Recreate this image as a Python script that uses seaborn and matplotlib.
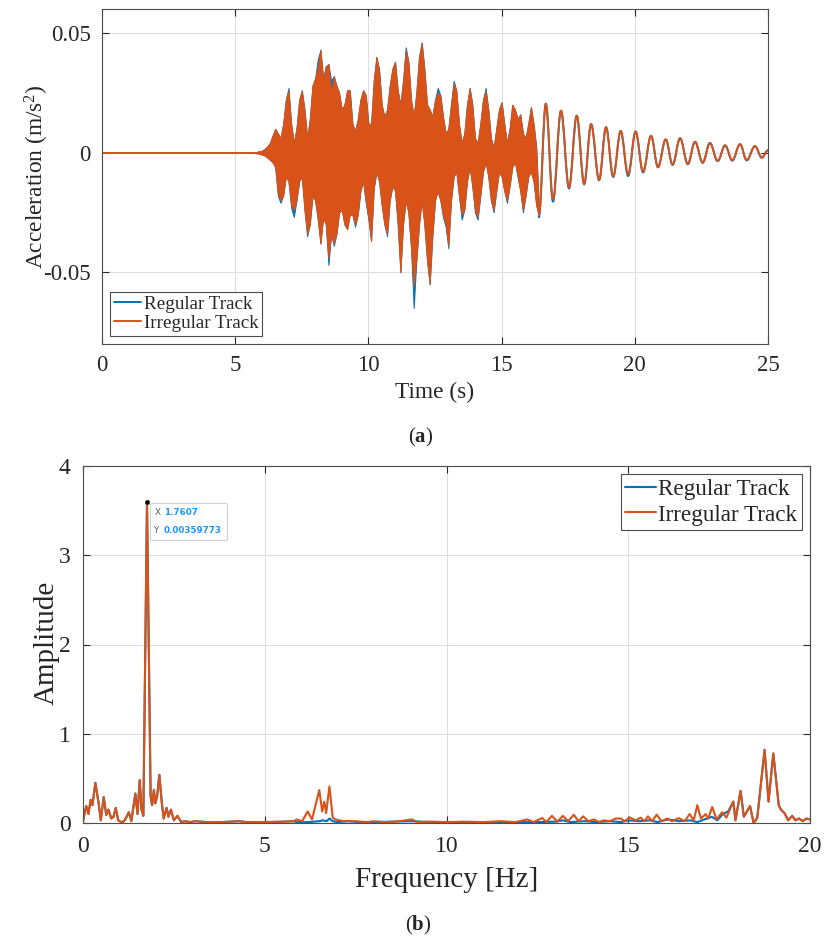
import numpy as np
import pandas as pd
import matplotlib
matplotlib.use("Agg")
import matplotlib.pyplot as plt
import seaborn as sns
from matplotlib.lines import Line2D
from matplotlib.path import Path
from matplotlib.patches import PathPatch
from matplotlib.offsetbox import TextArea, HPacker, VPacker, AnnotationBbox

# ---------------------------------------------------------------- data
# (a) vertical acceleration time history [m/s^2]
quiet_t = [0.0, 5.8]
quiet_v = [0.0, 0.0]

# strong-motion part: band of the fast oscillation, sampled every 0.1 s
env_t = np.round(np.arange(5.8, 16.45, 0.1), 1)
irr_hi = [0.0003, 0.0005, 0.0008, 0.0015, 0.0025, 0.004, 0.007, 0.010, 0.008, 0.006,
          0.012, 0.022, 0.026, 0.012, 0.004, 0.010, 0.022, 0.026, 0.018, 0.006,
          0.014, 0.028, 0.031, 0.036, 0.043, 0.030, 0.036, 0.037, 0.025, 0.032,
          0.028, 0.025, 0.018, 0.020, 0.026, 0.026, 0.012, 0.009, 0.014, 0.022,
          0.026, 0.024, 0.012, 0.012, 0.030, 0.040, 0.034, 0.020, 0.015, 0.018,
          0.028, 0.035, 0.038, 0.026, 0.020, 0.030, 0.043, 0.038, 0.022, 0.015,
          0.025, 0.040, 0.046, 0.035, 0.020, 0.018, 0.015, 0.022, 0.025, 0.024,
          0.015, 0.008, 0.010, 0.020, 0.029, 0.026, 0.012, 0.004, 0.008, 0.020,
          0.027, 0.020, 0.006, 0.004, 0.012, 0.022, 0.026, 0.018, 0.006, 0.002,
          0.010, 0.018, 0.021, 0.012, 0.004, 0.010, 0.020, 0.018, 0.014, 0.016,
          0.008, 0.006, 0.012, 0.019, 0.012, 0.002, -0.024]
irr_lo = [-0.0003, -0.0005, -0.0008, -0.0012, -0.002, -0.003, -0.004, -0.006, -0.017, -0.020,
          -0.018, -0.010, -0.012, -0.022, -0.024, -0.020, -0.012, -0.010, -0.024, -0.034,
          -0.030, -0.018, -0.020, -0.028, -0.038, -0.027, -0.030, -0.044, -0.034, -0.038,
          -0.034, -0.025, -0.024, -0.030, -0.032, -0.026, -0.026, -0.030, -0.026, -0.016,
          -0.012, -0.020, -0.027, -0.037, -0.015, -0.008, -0.012, -0.022, -0.030, -0.034,
          -0.020, -0.014, -0.016, -0.030, -0.050, -0.030, -0.020, -0.025, -0.040, -0.056,
          -0.045, -0.030, -0.020, -0.030, -0.045, -0.055, -0.035, -0.020, -0.016, -0.020,
          -0.026, -0.030, -0.039, -0.020, -0.010, -0.008, -0.018, -0.026, -0.024, -0.012,
          -0.006, -0.014, -0.024, -0.027, -0.018, -0.008, -0.004, -0.010, -0.020, -0.024,
          -0.016, -0.008, -0.010, -0.016, -0.020, -0.014, -0.006, -0.004, -0.010, -0.016,
          -0.024, -0.018, -0.010, -0.008, -0.012, -0.022, -0.026]
reg_hi = [0.0003, 0.0005, 0.0008, 0.0015, 0.0025, 0.004, 0.007, 0.010, 0.008, 0.006,
          0.012, 0.022, 0.027, 0.012, 0.004, 0.010, 0.022, 0.026, 0.018, 0.006,
          0.014, 0.028, 0.031, 0.039, 0.043, 0.031, 0.036, 0.037, 0.030, 0.032,
          0.028, 0.025, 0.018, 0.020, 0.026, 0.026, 0.012, 0.009, 0.014, 0.022,
          0.026, 0.024, 0.012, 0.012, 0.030, 0.040, 0.035, 0.020, 0.015, 0.018,
          0.028, 0.035, 0.038, 0.026, 0.020, 0.030, 0.044, 0.038, 0.022, 0.015,
          0.025, 0.040, 0.046, 0.035, 0.020, 0.018, 0.015, 0.022, 0.027, 0.024,
          0.015, 0.008, 0.010, 0.020, 0.030, 0.026, 0.012, 0.004, 0.008, 0.020,
          0.027, 0.020, 0.006, 0.004, 0.012, 0.022, 0.027, 0.018, 0.006, 0.002,
          0.010, 0.018, 0.021, 0.012, 0.004, 0.010, 0.020, 0.018, 0.014, 0.016,
          0.008, 0.006, 0.012, 0.019, 0.012, 0.002, -0.024]
reg_lo = [-0.0003, -0.0005, -0.0008, -0.0012, -0.002, -0.003, -0.004, -0.006, -0.018, -0.021,
          -0.018, -0.010, -0.012, -0.023, -0.027, -0.020, -0.012, -0.010, -0.024, -0.035,
          -0.030, -0.018, -0.020, -0.028, -0.038, -0.027, -0.030, -0.047, -0.034, -0.039,
          -0.034, -0.025, -0.024, -0.030, -0.032, -0.026, -0.026, -0.031, -0.026, -0.016,
          -0.012, -0.021, -0.028, -0.037, -0.015, -0.008, -0.012, -0.022, -0.030, -0.035,
          -0.020, -0.014, -0.016, -0.030, -0.050, -0.030, -0.020, -0.025, -0.040, -0.065,
          -0.045, -0.030, -0.020, -0.030, -0.045, -0.055, -0.035, -0.020, -0.016, -0.020,
          -0.027, -0.031, -0.040, -0.020, -0.010, -0.008, -0.018, -0.028, -0.024, -0.012,
          -0.006, -0.014, -0.025, -0.028, -0.018, -0.008, -0.004, -0.010, -0.020, -0.025,
          -0.016, -0.008, -0.010, -0.016, -0.021, -0.014, -0.006, -0.004, -0.010, -0.016,
          -0.025, -0.018, -0.010, -0.008, -0.012, -0.022, -0.027]

# free decay: successive crests and troughs
tail_t = [16.40, 16.66, 16.93, 17.23, 17.53, 17.82, 18.10, 18.36, 18.66, 18.92,
          19.19, 19.47, 19.75, 20.03, 20.31, 20.61, 20.87, 21.16, 21.42, 21.70,
          21.99, 22.26, 22.55, 22.82, 23.11, 23.39, 23.66, 23.95, 24.20, 24.51,
          24.77, 25.00]
tail_irr = [-0.026, 0.0203, -0.0195, 0.0175, -0.0145, 0.0154, -0.013, 0.0119, -0.0113, 0.0106,
            -0.010, 0.009, -0.009, 0.0088, -0.0079, 0.007, -0.006, 0.0055, -0.005, 0.006,
            -0.0047, 0.0045, -0.0041, 0.004, -0.0035, 0.003, -0.0032, 0.0035, -0.0031, 0.0027,
            -0.002, 0.001]
tail_reg = [-0.027, 0.0205, -0.0205, 0.0175, -0.0150, 0.0154, -0.0133, 0.0119, -0.0116, 0.0106,
            -0.0102, 0.009, -0.0098, 0.0088, -0.0083, 0.007, -0.0062, 0.0055, -0.0052, 0.006,
            -0.0049, 0.0045, -0.0043, 0.004, -0.0036, 0.003, -0.0034, 0.0035, -0.0033, 0.0027,
            -0.0022, 0.001]

# (b) amplitude spectrum (x 1e-3)
peak_f = 1.7607
peak_amp = 3.59773
freq_low = [0.00, 0.05, 0.09, 0.15, 0.21, 0.26, 0.34, 0.43, 0.49, 0.57,
            0.64, 0.70, 0.78, 0.84, 0.90, 0.97, 1.05, 1.13, 1.20, 1.26,
            1.33, 1.44, 1.50, 1.56, 1.61, 1.66, peak_f, 1.86, 1.90, 1.95,
            1.99, 2.04, 2.10, 2.17, 2.22, 2.30, 2.35, 2.42, 2.50, 2.60,
            2.70, 2.80, 2.95, 3.10, 3.40, 3.80, 4.30, 4.50, 5.00, 5.50, 5.80]
amp_low = [0.02, 0.12, 0.19, 0.10, 0.26, 0.20, 0.45, 0.22, 0.03, 0.29,
           0.09, 0.15, 0.05, 0.07, 0.17, 0.03, 0.01, 0.02, 0.07, 0.12,
           0.02, 0.33, 0.10, 0.48, 0.15, 0.08, peak_amp, 0.30, 0.20, 0.37,
           0.22, 0.30, 0.54, 0.22, 0.05, 0.17, 0.07, 0.15, 0.03, 0.08,
           0.01, 0.02, 0.01, 0.02, 0.01, 0.01, 0.02, 0.01, 0.01, 0.015, 0.02]
freq_mid_irr = [5.88, 6.03, 6.18, 6.30, 6.50, 6.58, 6.64, 6.69, 6.78, 6.87,
                6.94, 7.05, 7.20, 7.50, 7.80, 8.00, 8.30, 8.60, 9.05, 9.20,
                9.60, 10.0, 10.5, 11.0, 11.5, 11.9, 12.22, 12.40, 12.63, 12.75,
                12.90, 13.05, 13.20, 13.35, 13.50, 13.63, 13.76, 13.90, 14.05, 14.20,
                14.33, 14.50, 14.65, 14.79, 14.90, 15.04, 15.20, 15.34, 15.45, 15.54,
                15.66, 15.78, 15.92, 16.07, 16.20, 16.39, 16.55, 16.69, 16.80, 16.90,
                17.00, 17.13, 17.20, 17.31, 17.43, 17.58, 17.70, 17.89]
amp_mid_irr = [0.04, 0.02, 0.13, 0.04, 0.37, 0.13, 0.24, 0.11, 0.41, 0.06,
               0.04, 0.03, 0.02, 0.02, 0.01, 0.02, 0.01, 0.015, 0.04, 0.01,
               0.015, 0.01, 0.015, 0.01, 0.02, 0.01, 0.04, 0.01, 0.056, 0.01,
               0.08, 0.015, 0.08, 0.02, 0.093, 0.02, 0.075, 0.02, 0.04, 0.01,
               0.03, 0.02, 0.05, 0.05, 0.02, 0.063, 0.03, 0.06, 0.02, 0.075,
               0.02, 0.093, 0.02, 0.05, 0.02, 0.055, 0.02, 0.10, 0.03, 0.20,
               0.05, 0.10, 0.05, 0.18, 0.04, 0.12, 0.06, 0.24]
freq_mid_reg = [5.88, 6.20, 6.50, 6.60, 6.70, 6.78, 6.87, 7.00, 7.30, 7.60,
                8.00, 9.00, 10.0, 11.0, 12.0, 12.5, 13.0, 13.2, 13.4, 13.8,
                14.1, 14.5, 14.8, 15.0, 15.3, 15.6, 15.8, 16.1, 16.4, 16.7,
                16.9, 17.1, 17.3, 17.45, 17.6, 17.75, 17.89]
amp_mid_reg = [0.01, 0.01, 0.02, 0.03, 0.02, 0.05, 0.02, 0.01, 0.02, 0.01,
               0.01, 0.02, 0.005, 0.005, 0.01, 0.01, 0.015, 0.03, 0.01, 0.02,
               0.01, 0.02, 0.01, 0.03, 0.02, 0.03, 0.01, 0.04, 0.02, 0.03,
               0.01, 0.04, 0.07, 0.03, 0.10, 0.13, 0.24]
freq_high = [17.95, 18.09, 18.18, 18.35, 18.45, 18.55, 18.75, 18.86, 18.99, 19.14,
             19.20, 19.30, 19.40, 19.51, 19.60, 19.70, 19.80, 19.90, 20.00]
amp_high = [0.03, 0.36, 0.07, 0.19, 0.00, 0.06, 0.82, 0.24, 0.78, 0.20,
            0.15, 0.11, 0.03, 0.08, 0.03, 0.05, 0.02, 0.05, 0.04]

labels = ["Regular Track", "Irregular Track"]

# ---------------------------------------------------------------- style
BLUE, ORANGE = "#0072BD", "#D95319"
INK = "#262626"

sns.set_style("ticks")
plt.rcParams.update({
    "font.family": ["Liberation Serif", "DejaVu Serif"],
    "mathtext.fontset": "custom",
    "mathtext.rm": "Liberation Serif",
    "mathtext.it": "Liberation Serif:italic",
    "mathtext.bf": "Liberation Serif:bold",
    "axes.unicode_minus": False,
    "text.color": INK,
    "axes.labelcolor": INK,
})


def matlab_axes(ax, tick_size, pad):
    ax.grid(True, color="#dedede", linewidth=0.8)
    ax.set_axisbelow(True)
    ax.tick_params(direction="in", top=True, right=True, length=5, width=0.8,
                   labelsize=tick_size, colors=INK, pad=pad)
    for s in ax.spines.values():
        s.set_linewidth(0.8)
        s.set_color("#4d4d4d")


def crest_curve(ts, vs):
    """Smooth curve through successive crests/troughs (horizontal tangent at each)."""
    verts, codes = [(ts[0], vs[0])], [Path.MOVETO]
    for t0, v0, t1, v1 in zip(ts[:-1], vs[:-1], ts[1:], vs[1:]):
        dt = t1 - t0
        verts += [(t0 + 0.364 * dt, v0), (t1 - 0.364 * dt, v1), (t1, v1)]
        codes += [Path.CURVE4] * 3
    return Path(verts, codes)


fig = plt.figure(figsize=(8.24, 9.43), dpi=100)
ax1 = fig.add_axes([102 / 824, 1 - 344 / 943, 666 / 824, 335 / 943])
ax2 = fig.add_axes([83 / 824, 1 - 823 / 943, 727 / 824, 357 / 943])

# ---------------------------------------------------------------- (a)
series_a = [
    (BLUE, reg_hi, reg_lo, tail_reg),
    (ORANGE, irr_hi, irr_lo, tail_irr),
]
for color, hi, lo, tail in series_a:
    sns.lineplot(x=quiet_t, y=quiet_v, color=color, linewidth=1.4, ax=ax1,
                 estimator=None, legend=False)
    ax1.fill_between(env_t, lo, hi, color=color, linewidth=0.7, edgecolor=color)
    ax1.add_patch(PathPatch(crest_curve(tail_t, tail), fill=False, edgecolor=color,
                            linewidth=1.4, joinstyle="round", capstyle="round"))

ax1.set_xlim(0, 25)
ax1.set_ylim(-0.08, 0.06)
ax1.set_xticks([0, 5, 10, 15, 20, 25])
ax1.set_yticks([-0.05, 0, 0.05])
ax1.set_yticklabels(["-0.05", "0", "0.05"])
matlab_axes(ax1, 16.5, 8)
ax1.set_xlabel("Time (s)", fontsize=16.8)
ax1.set_ylabel("Acceleration (m/s$^2$)", fontsize=16.8)
ax1.xaxis.set_label_coords(0.5, -0.146)
ax1.xaxis.label.set_va("center")
ax1.yaxis.set_label_coords(-0.098, 0.5)
ax1.yaxis.label.set_va("center")
handles = [Line2D([], [], color=BLUE, linewidth=1.4),
           Line2D([], [], color=ORANGE, linewidth=1.4)]
leg1 = ax1.legend(handles, labels, loc="lower left", bbox_to_anchor=(0.012, 0.024),
                  fontsize=13.7, frameon=True, fancybox=False, edgecolor="#4d4d4d",
                  framealpha=1, handlelength=1.45, handletextpad=0.12, borderpad=0.2,
                  labelspacing=0.1, borderaxespad=0)
leg1.get_frame().set_linewidth(0.8)

# ---------------------------------------------------------------- (b)
spec = pd.concat([
    pd.DataFrame({"f": freq_low + freq_mid_reg + freq_high,
                  "A": amp_low + amp_mid_reg + amp_high, "track": labels[0]}),
    pd.DataFrame({"f": freq_low + freq_mid_irr + freq_high,
                  "A": amp_low + amp_mid_irr + amp_high, "track": labels[1]}),
], ignore_index=True)
sns.lineplot(data=spec, x="f", y="A", hue="track", palette=[BLUE, ORANGE],
             linewidth=1.5, estimator=None, sort=False, ax=ax2)

ax2.set_xlim(0, 20)
ax2.set_ylim(0, 4)
ax2.set_xticks([0, 5, 10, 15, 20])
ax2.set_yticks([0, 1, 2, 3, 4])
matlab_axes(ax2, 17, 9)
ax2.set_xlabel("Frequency [Hz]", fontsize=21)
ax2.set_ylabel("Amplitude", fontsize=21)
ax2.xaxis.set_label_coords(0.5, -0.16)
ax2.xaxis.label.set_va("center")
ax2.yaxis.set_label_coords(-0.05, 0.504)
ax2.yaxis.label.set_va("center")
leg2 = ax2.legend(title=None, loc="upper right", bbox_to_anchor=(0.989, 0.978),
                  fontsize=16.7, frameon=True, fancybox=False, edgecolor="#4d4d4d",
                  framealpha=1, handlelength=1.3, handletextpad=0.12, borderpad=0.2,
                  labelspacing=0.2, borderaxespad=0)
leg2.get_frame().set_linewidth(0.8)

# data tip on the dominant peak
sns.scatterplot(x=[peak_f], y=[peak_amp], color="black", s=10, ax=ax2,
                zorder=8, edgecolor="#3a3a2a", linewidth=0.5, legend=False)


def tip_row(key, val):
    return HPacker(children=[
        TextArea(key, textprops=dict(color="#5a5a5a", size=6.3, family="DejaVu Sans")),
        TextArea(val, textprops=dict(color="#1a96ff", size=6.3, family="DejaVu Sans",
                                     weight="bold")),
    ], sep=3, align="baseline")


tip = VPacker(children=[tip_row("X", f"{peak_f:.4f}"),
                        tip_row("Y", f"{peak_amp * 1e-3:.8f}")], sep=7, align="left")
ab = AnnotationBbox(tip, (peak_f, peak_amp), xybox=(5.3, -4.1), xycoords="data",
                    boxcoords="offset points", box_alignment=(0, 1), frameon=True,
                    pad=0.35, zorder=7,
                    bboxprops=dict(boxstyle="round,pad=0.35,rounding_size=0.15",
                                   fc="white", ec="#cfcfcf", lw=0.8))
ax2.add_artist(ab)

# ---------------------------------------------------------------- captions
fig.text(421 / 824, 1 - 437 / 943, r"($\mathbf{a}$)", ha="center", va="center", fontsize=15)
fig.text(418 / 824, 1 - 925 / 943, r"($\mathbf{b}$)", ha="center", va="center", fontsize=15)

fig.savefig("out.png", dpi=100)
